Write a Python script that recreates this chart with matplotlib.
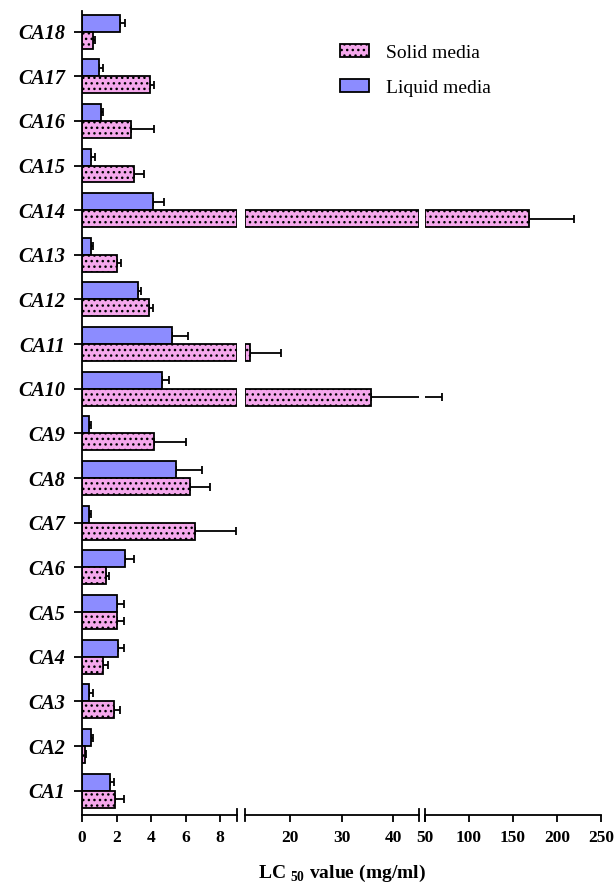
import matplotlib.pyplot as plt
from matplotlib.patches import Patch

plt.rcParams['hatch.color'] = 'black'
plt.rcParams['hatch.linewidth'] = 1.0
plt.rcParams['mathtext.fontset'] = 'custom'
plt.rcParams['mathtext.bf'] = 'Liberation Serif:bold'
plt.rcParams['mathtext.rm'] = 'Liberation Serif:bold'

# LC50 values (mg/ml) for each isolate
labels = ['CA%d' % i for i in range(1, 19)]
liquid = [1.61, 0.52, 0.41, 2.11, 2.0, 2.52, 0.43, 5.43, 0.43, 4.64,
          5.23, 3.26, 0.52, 4.12, 0.5, 1.12, 1.0, 2.2]
liquid_err = [0.23, 0.1, 0.21, 0.31, 0.42, 0.5, 0.09, 1.55, 0.09, 0.41,
              0.91, 0.17, 0.12, 0.62, 0.26, 0.08, 0.24, 0.3]
solid = [1.94, 0.19, 1.84, 1.22, 2.0, 1.41, 6.55, 6.26, 4.15, 35.7,
         12.3, 3.9, 2.03, 168.3, 3.04, 2.83, 3.93, 0.62]
solid_err = [0.48, 0.03, 0.39, 0.31, 0.42, 0.18, 2.35, 1.18, 1.88, 34.0,
             6.0, 0.23, 0.24, 50.5, 0.53, 1.32, 0.27, 0.11]

# broken x axis: three segments
segments = [(0, 9), (11.3, 45), (50, 250)]
seg_ticks = [[0, 2, 4, 6, 8], [20, 30, 40], [50, 100, 150, 200, 250]]

liquid_color = '#8c8cff'
solid_color = '#f5a8ec'
bar_h = 0.38

W, H = 616, 885
fig = plt.figure(figsize=(W / 100, H / 100), dpi=100)
seg_px = [(82, 237.3), (245, 419), (425, 601)]
y_bottom, y_top = 815, 11

axes = []
for k, ((lo, hi), (p0, p1)) in enumerate(zip(segments, seg_px)):
    ax = fig.add_axes([p0 / W, (H - y_bottom) / H, (p1 - p0) / W, (y_bottom - y_top) / H])
    axes.append(ax)
    ypos = range(len(labels))
    for i in ypos:
        # bar pieces limited to this segment so borders show at the breaks
        for val, err, y0, col, hatch in [
                (liquid[i], liquid_err[i], i, liquid_color, None),
                (solid[i], solid_err[i], i - bar_h, solid_color, '...')]:
            if val > lo:
                start = max(lo, 0)
                ax.barh(y0, min(val, hi) - start, left=start, height=bar_h,
                        align='edge', color=col, edgecolor='black',
                        linewidth=1.3, hatch=hatch, zorder=2)
            ax.errorbar(val, y0 + bar_h / 2, xerr=[[0], [err]], fmt='none',
                        ecolor='black', elinewidth=1.3, capsize=3,
                        capthick=1.3, zorder=1)
    ax.set_xlim(lo, hi)
    ax.set_ylim(-0.545, 17.46)
    ax.set_xticks(seg_ticks[k])
    ax.set_xticklabels([str(t) for t in seg_ticks[k]], fontfamily='Liberation Serif',
                       fontweight='bold', fontsize=12.5)
    ax.tick_params(axis='x', length=5, width=1.3, pad=6)
    for s in ['top', 'right']:
        ax.spines[s].set_visible(False)
    ax.spines['bottom'].set_linewidth(1.3)
    if k == 0:
        ax.spines['left'].set_linewidth(1.3)
        ax.set_yticks(list(ypos))
        ax.set_yticklabels(labels, fontfamily='Liberation Serif', fontweight='bold',
                           fontstyle='italic', fontsize=14.5)
        ax.tick_params(axis='y', length=6, width=1.3, pad=6)
    else:
        ax.spines['left'].set_visible(False)
        ax.set_yticks([])
    # end caps at the axis breaks
    ends = []
    if k > 0:
        ends.append(0)
    if k < 2:
        ends.append(1)
    for e in ends:
        ax.plot([e, e], [-0.008, 0.008], color='black', lw=1.3,
                transform=ax.transAxes, clip_on=False)

fig.text(342 / W, 1 - 873 / H, r'LC $_{\mathbf{50}}$ value (mg/ml)', ha='center', va='center',
         fontfamily='Liberation Serif', fontweight='bold', fontsize=14)

handles = [Patch(facecolor=solid_color, edgecolor='black', hatch='...', linewidth=1.3),
           Patch(facecolor=liquid_color, edgecolor='black', linewidth=1.3)]
fig.legend(handles, ['Solid media', 'Liquid media'], loc='upper left',
           bbox_to_anchor=(322 / W, 1 - 27 / H), frameon=False,
           prop={'family': 'Liberation Serif', 'size': 14},
           handlelength=1.5, handleheight=0.65, labelspacing=0.9, handletextpad=0.9)

fig.savefig('out.png', dpi=100)
